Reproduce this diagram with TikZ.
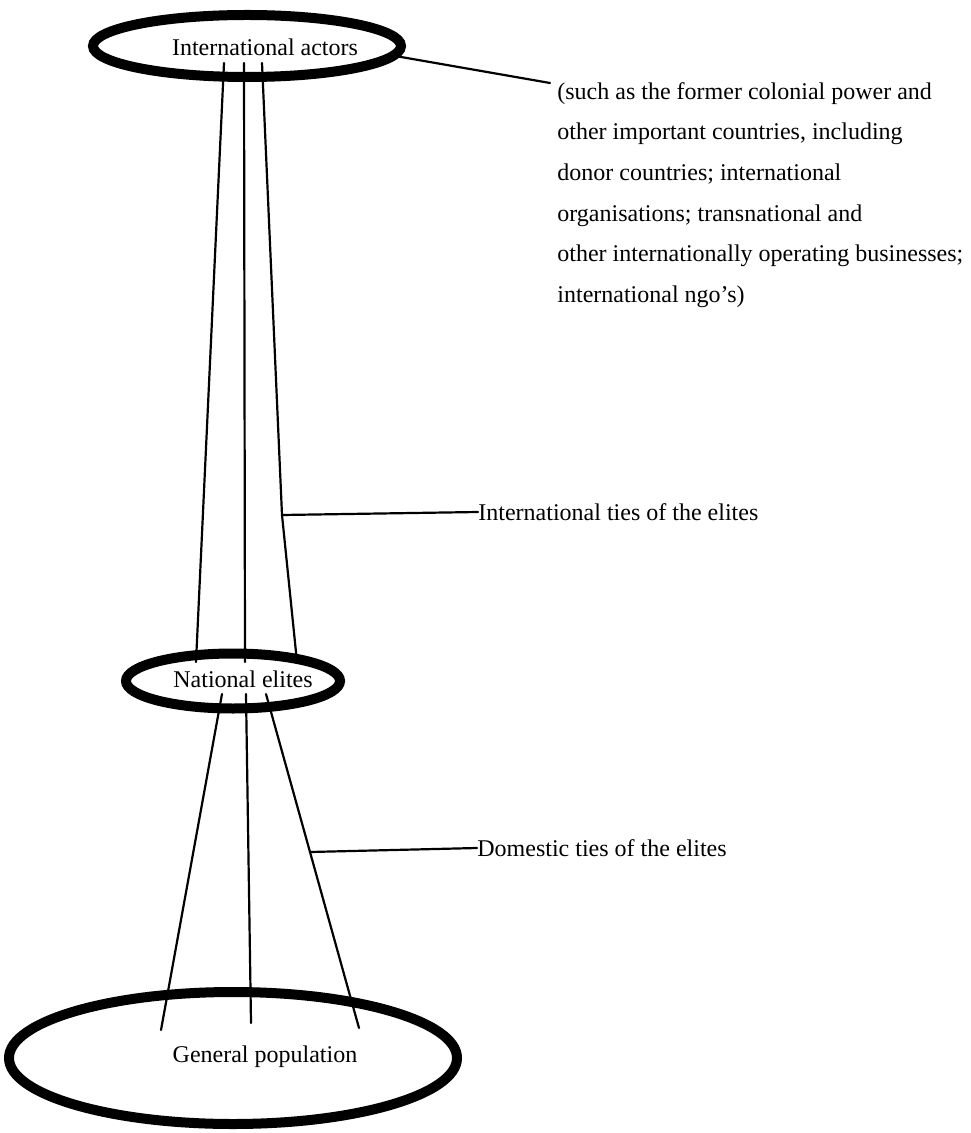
\documentclass[tikz,border=0pt]{standalone}
\usepackage{fontspec}
\setmainfont{Liberation Serif}
\usetikzlibrary{shapes.geometric}
\tikzset{oval/.style={ellipse,draw,line width=5pt,inner sep=0pt},
  tie/.style={line width=1.1pt,line cap=round},
  note/.style={anchor=west,align=left,inner sep=0pt}}
\begin{document}
\begin{tikzpicture}[x=0.5pt,y=-0.5pt,font=\fontsize{12}{20.3}\selectfont]%elites
\useasboundingbox (0,0) rectangle (970,1133);
% the three circles of actors
\node[oval,minimum width=154pt,minimum height=31pt] (actors) at (247,46) {};
\node[oval,minimum width=107pt,minimum height=27.5pt] (elites) at (233,681) {};
\node[oval,minimum width=224pt,minimum height=66pt] (pop) at (233,1058) {};
\node (actorstxt) at (265,47) {International actors};
\node (elitestxt) at (243,679) {National elites};
\node (poptxt) at (265,1057) {General population};
% ends of the ties
\coordinate (a1) at (224,63); \coordinate (b1) at (196,662);
\coordinate (a2) at (244,63); \coordinate (b2) at (245,662);
\coordinate (a3) at (262,63); \coordinate (b3) at (297,662);
\coordinate (k1) at (282,515);
\coordinate (c1) at (222,694); \coordinate (d1) at (161,1030);
\coordinate (c2) at (246,694); \coordinate (d2) at (251,1023);
\coordinate (c3) at (266,694); \coordinate (d3) at (359,1028);
\coordinate (k2) at (310,852);
\coordinate (n0) at (550,83);
\draw[tie] (a1) -- (b1) (a2) -- (b2) (a3) -- (k1) -- (b3);
\foreach \i in {1,2,3} {\draw[tie] (c\i) -- (d\i);}
% labels
\node[note] (notes) at (557,195) {(such as the former colonial power and\\
other important countries, including\\
donor countries; international\\
organisations; transnational and\\
other internationally operating businesses;\\
international ngo’s)};
\node[note] (intlties) at (478,512) {International ties of the elites};
\node[note] (domties) at (477,848) {Domestic ties of the elites};
\draw[tie] (actors.-4) -- (n0);
\draw[tie] (k1) -- (intlties.west);
\draw[tie] (k2) -- (domties.west);
\end{tikzpicture}
\end{document}
